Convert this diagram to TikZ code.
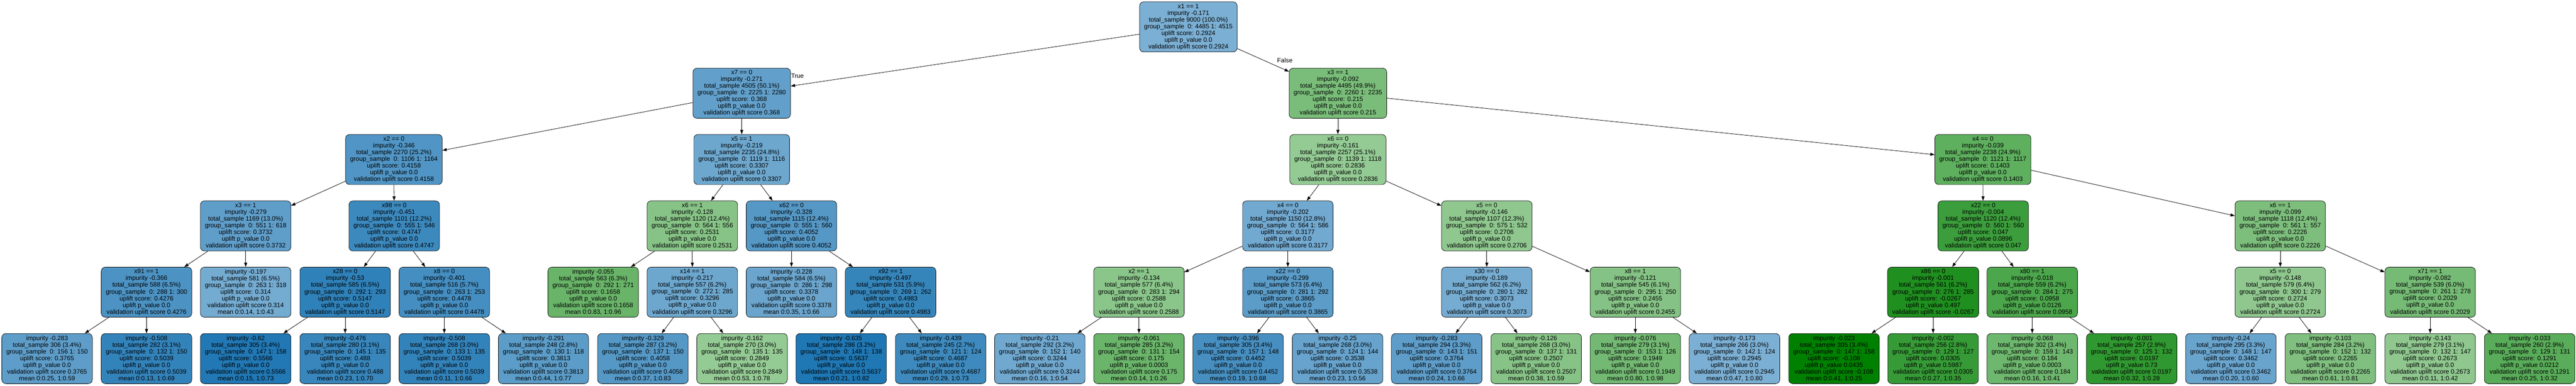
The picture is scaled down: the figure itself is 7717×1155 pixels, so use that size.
\documentclass[tikz,border=0pt]{standalone}
\usepackage{fontspec}
\setmainfont{Liberation Sans}
\usetikzlibrary{arrows.meta}
\definecolor{tabblue}{RGB}{31,119,180}
\definecolor{tabgreen}{RGB}{0,128,0}
\newcommand{\splittext}[8]{#1\\impurity #2\\total\_sample #3 (#4\%)\\group\_sample\ \ 0: #5 1: #6\\uplift score: #7\\uplift p\_value #8\\validation uplift score #7}
\newcommand{\leaftext}[9]{impurity #1\\total\_sample #2 (#3\%)\\group\_sample\ \ 0: #4 1: #5\\uplift score: #6\\uplift p\_value #7\\validation uplift score #6\\mean 0:#8, 1:#9}
\begin{document}
\begin{tikzpicture}[x=1pt,y=-1pt,
    tree box/.style={rectangle,rounded corners=12pt,draw=black,line width=1.1pt,align=center,
      minimum height=150pt,inner xsep=13.5pt,font=\fontsize{18.9pt}{20.1pt}\selectfont},
    bbox/.style={tree box,fill=tabblue!#1!white},
    gbox/.style={tree box,fill=tabgreen!#1!white},
    lbl/.style={inner sep=0pt,font=\fontsize{18.9pt}{20.1pt}\selectfont},
    link/.style={-{Triangle[length=13pt,width=9pt]},line width=1.2pt}]
\useasboundingbox (0,0) rectangle (7717,1155);

% level 0 and 1
\node[bbox=59] (n) at (3560,80.6) {\splittext{x1 == 1}{-0.171}{9000}{100.0}{4485}{4515}{0.2924}{0.0}};
\node[bbox=70] (nL) at (2222,279.2) {\splittext{x7 == 0}{-0.271}{4505}{50.1}{2225}{2280}{0.368}{0.0}};
\node[gbox=52] (nR) at (4008,279.2) {\splittext{x3 == 1}{-0.092}{4495}{49.9}{2260}{2235}{0.215}{0.0}};

% level 2
\node[bbox=78] (nLL) at (1180,477.7) {\splittext{x2 == 0}{-0.346}{2270}{25.2}{1106}{1164}{0.4158}{0.0}};
\node[bbox=65] (nLR) at (2222,477.7) {\splittext{x5 == 1}{-0.219}{2235}{24.8}{1119}{1116}{0.3307}{0.0}};
\node[gbox=42] (nRL) at (4008,477.7) {\splittext{x6 == 0}{-0.161}{2257}{25.1}{1139}{1118}{0.2836}{0.0}};
\node[gbox=63] (nRR) at (5940,477.7) {\splittext{x4 == 0}{-0.039}{2238}{24.9}{1121}{1117}{0.1403}{0.0}};

% level 3
\node[bbox=71] (nLLL) at (736,676.6) {\splittext{x3 == 1}{-0.279}{1169}{13.0}{551}{618}{0.3732}{0.0}};
\node[bbox=87] (nLLR) at (1181,676.6) {\splittext{x98 == 0}{-0.451}{1101}{12.2}{555}{546}{0.4747}{0.0}};
\node[gbox=47] (nLRL) at (2074,676.6) {\splittext{x6 == 1}{-0.128}{1120}{12.4}{564}{556}{0.2531}{0.0}};
\node[bbox=76] (nLRR) at (2371,676.6) {\splittext{x62 == 0}{-0.328}{1115}{12.4}{555}{560}{0.4052}{0.0}};
\node[bbox=63] (nRLL) at (3858,676.6) {\splittext{x4 == 0}{-0.202}{1150}{12.8}{564}{586}{0.3177}{0.0}};
\node[gbox=44] (nRLR) at (4454,676.6) {\splittext{x5 == 0}{-0.146}{1107}{12.3}{575}{532}{0.2706}{0.0}};
\node[gbox=77] (nRRL) at (5941,676.6) {\splittext{x22 == 0}{-0.004}{1120}{12.4}{560}{560}{0.047}{0.0896}};
\node[gbox=51] (nRRR) at (6831,676.6) {\splittext{x6 == 1}{-0.099}{1118}{12.4}{561}{557}{0.2226}{0.0}};

% level 4
\node[bbox=80] (nLLLL) at (439,875.1) {\splittext{x91 == 1}{-0.366}{588}{6.5}{288}{300}{0.4276}{0.0}};
\node[bbox=62] (nLLLR) at (736,875.1) {\leaftext{-0.197}{581}{6.5}{263}{318}{0.314}{0.0}{0.14}{0.43}};
\node[bbox=93] (nLLRL) at (1034,875.1) {\splittext{x28 == 0}{-0.53}{585}{6.5}{292}{293}{0.5147}{0.0}};
\node[bbox=83] (nLLRR) at (1331,875.1) {\splittext{x8 == 0}{-0.401}{516}{5.7}{263}{253}{0.4478}{0.0}};
\node[gbox=59] (nLRLL) at (1777,875.1) {\leaftext{-0.055}{563}{6.3}{292}{271}{0.1658}{0.0}{0.83}{0.96}};
\node[bbox=65] (nLRLR) at (2074,875.1) {\splittext{x14 == 1}{-0.217}{557}{6.2}{272}{285}{0.3296}{0.0}};
\node[bbox=66] (nLRRL) at (2371,875.1) {\leaftext{-0.228}{584}{6.5}{286}{298}{0.3378}{0.0}{0.35}{0.66}};
\node[bbox=90] (nLRRR) at (2668,875.1) {\splittext{x92 == 1}{-0.497}{531}{5.9}{269}{262}{0.4983}{0.0}};
\node[gbox=46] (nRLLL) at (3412,875.1) {\splittext{x2 == 1}{-0.134}{577}{6.4}{283}{294}{0.2588}{0.0}};
\node[bbox=73] (nRLLR) at (3858,875.1) {\splittext{x22 == 0}{-0.299}{573}{6.4}{281}{292}{0.3865}{0.0}};
\node[bbox=61] (nRLRL) at (4454,875.1) {\splittext{x30 == 0}{-0.189}{562}{6.2}{280}{282}{0.3073}{0.0}};
\node[gbox=48] (nRLRR) at (4899,875.1) {\splittext{x8 == 1}{-0.121}{545}{6.1}{295}{250}{0.2455}{0.0}};
\node[gbox=88] (nRRLL) at (5791,875.1) {\splittext{x86 == 0}{-0.001}{561}{6.2}{276}{285}{-0.0267}{0.497}};
\node[gbox=70] (nRRLR) at (6088,875.1) {\splittext{x80 == 1}{-0.018}{559}{6.2}{284}{275}{0.0958}{0.0126}};
\node[gbox=44] (nRRRL) at (6831,875.1) {\splittext{x5 == 0}{-0.148}{579}{6.4}{300}{279}{0.2724}{0.0}};
\node[gbox=54] (nRRRR) at (7280,875.1) {\splittext{x71 == 1}{-0.082}{539}{6.0}{261}{278}{0.2029}{0.0}};

% level 5, all leaves
\node[bbox=72] (nLLLLL) at (141,1073.9) {\leaftext{-0.283}{306}{3.4}{156}{150}{0.3765}{0.0}{0.25}{0.59}};
\node[bbox=91] (nLLLLR) at (439,1073.9) {\leaftext{-0.508}{282}{3.1}{132}{150}{0.5039}{0.0}{0.13}{0.69}};
\node[bbox=99] (nLLRLL) at (736,1073.9) {\leaftext{-0.62}{305}{3.4}{147}{158}{0.5566}{0.0}{0.15}{0.73}};
\node[bbox=89] (nLLRLR) at (1034,1073.9) {\leaftext{-0.476}{280}{3.1}{145}{135}{0.488}{0.0}{0.23}{0.70}};
\node[bbox=91] (nLLRRL) at (1331,1073.9) {\leaftext{-0.508}{268}{3.0}{133}{135}{0.5039}{0.0}{0.11}{0.66}};
\node[bbox=73] (nLLRRR) at (1628,1073.9) {\leaftext{-0.291}{248}{2.8}{130}{118}{0.3813}{0.0}{0.44}{0.77}};
\node[bbox=76] (nLRLRL) at (1926,1073.9) {\leaftext{-0.329}{287}{3.2}{137}{150}{0.4058}{0.0}{0.37}{0.83}};
\node[gbox=42] (nLRLRR) at (2223,1073.9) {\leaftext{-0.162}{270}{3.0}{135}{135}{0.2849}{0.0}{0.53}{0.78}};
\node[bbox=100] (nLRRRL) at (2520,1073.9) {\leaftext{-0.635}{286}{3.2}{148}{138}{0.5637}{0.0}{0.21}{0.82}};
\node[bbox=86] (nLRRRR) at (2818,1073.9) {\leaftext{-0.439}{245}{2.7}{121}{124}{0.4687}{0.0}{0.29}{0.73}};
\node[bbox=64] (nRLLLL) at (3115,1073.9) {\leaftext{-0.21}{292}{3.2}{152}{140}{0.3244}{0.0}{0.16}{0.54}};
\node[gbox=58] (nRLLLR) at (3412,1073.9) {\leaftext{-0.061}{285}{3.2}{131}{154}{0.175}{0.0003}{0.14}{0.26}};
\node[bbox=82] (nRLLRL) at (3709,1073.9) {\leaftext{-0.396}{305}{3.4}{157}{148}{0.4452}{0.0}{0.19}{0.68}};
\node[bbox=68] (nRLLRR) at (4007,1073.9) {\leaftext{-0.25}{268}{3.0}{124}{144}{0.3538}{0.0}{0.23}{0.56}};
\node[bbox=72] (nRLRLL) at (4304,1073.9) {\leaftext{-0.283}{294}{3.3}{143}{151}{0.3764}{0.0}{0.24}{0.66}};
\node[gbox=47] (nRLRLR) at (4602,1073.9) {\leaftext{-0.126}{268}{3.0}{137}{131}{0.2507}{0.0}{0.38}{0.59}};
\node[gbox=55] (nRLRRL) at (4899,1073.9) {\leaftext{-0.076}{279}{3.1}{153}{126}{0.1949}{0.0}{0.80}{0.98}};
\node[bbox=59] (nRLRRR) at (5196,1073.9) {\leaftext{-0.173}{266}{3.0}{142}{124}{0.2945}{0.0}{0.47}{0.80}};
\node[gbox=100] (nRRLLL) at (5494,1073.9) {\leaftext{-0.023}{305}{3.4}{147}{158}{-0.108}{0.0435}{0.41}{0.25}};
\node[gbox=79] (nRRLLR) at (5791,1073.9) {\leaftext{-0.002}{256}{2.8}{129}{127}{0.0305}{0.5987}{0.27}{0.35}};
\node[gbox=57] (nRRLRL) at (6088,1073.9) {\leaftext{-0.068}{302}{3.4}{159}{143}{0.184}{0.0003}{0.16}{0.41}};
\node[gbox=81] (nRRLRR) at (6386,1073.9) {\leaftext{-0.001}{257}{2.9}{125}{132}{0.0197}{0.73}{0.32}{0.28}};
\node[bbox=67] (nRRRLL) at (6683,1073.9) {\leaftext{-0.24}{295}{3.3}{148}{147}{0.3462}{0.0}{0.20}{0.60}};
\node[gbox=50] (nRRRLR) at (6981,1073.9) {\leaftext{-0.103}{284}{3.2}{152}{132}{0.2265}{0.0}{0.61}{0.81}};
\node[gbox=44] (nRRRRL) at (7280,1073.9) {\leaftext{-0.143}{279}{3.1}{132}{147}{0.2673}{0.0}{0.11}{0.42}};
\node[gbox=65] (nRRRRR) at (7578,1073.9) {\leaftext{-0.033}{260}{2.9}{129}{131}{0.1291}{0.0212}{0.25}{0.32}};

% edges
\draw[link] (n) -- (nL);
\draw[link] (n) -- (nR);
\node[lbl] (lblT) at (2389,228) {True};
\node[lbl] (lblF) at (3849,181) {False};
\foreach \p/\c in {nL/nLL,nL/nLR,nR/nRL,nR/nRR,
    nLL/nLLL,nLL/nLLR,nLR/nLRL,nLR/nLRR,nRL/nRLL,nRL/nRLR,nRR/nRRL,nRR/nRRR,
    nLLL/nLLLL,nLLL/nLLLR,nLLR/nLLRL,nLLR/nLLRR,nLRL/nLRLL,nLRL/nLRLR,nLRR/nLRRL,nLRR/nLRRR,
    nRLL/nRLLL,nRLL/nRLLR,nRLR/nRLRL,nRLR/nRLRR,nRRL/nRRLL,nRRL/nRRLR,nRRR/nRRRL,nRRR/nRRRR,
    nLLLL/nLLLLL,nLLLL/nLLLLR,nLLRL/nLLRLL,nLLRL/nLLRLR,nLLRR/nLLRRL,nLLRR/nLLRRR,
    nLRLR/nLRLRL,nLRLR/nLRLRR,nLRRR/nLRRRL,nLRRR/nLRRRR,
    nRLLL/nRLLLL,nRLLL/nRLLLR,nRLLR/nRLLRL,nRLLR/nRLLRR,nRLRL/nRLRLL,nRLRL/nRLRLR,
    nRLRR/nRLRRL,nRLRR/nRLRRR,nRRLL/nRRLLL,nRRLL/nRRLLR,nRRLR/nRRLRL,nRRLR/nRRLRR,
    nRRRL/nRRRLL,nRRRL/nRRRLR,nRRRR/nRRRRL,nRRRR/nRRRRR}
  \draw[link] (\p) -- (\c);
\end{tikzpicture}
\end{document}
